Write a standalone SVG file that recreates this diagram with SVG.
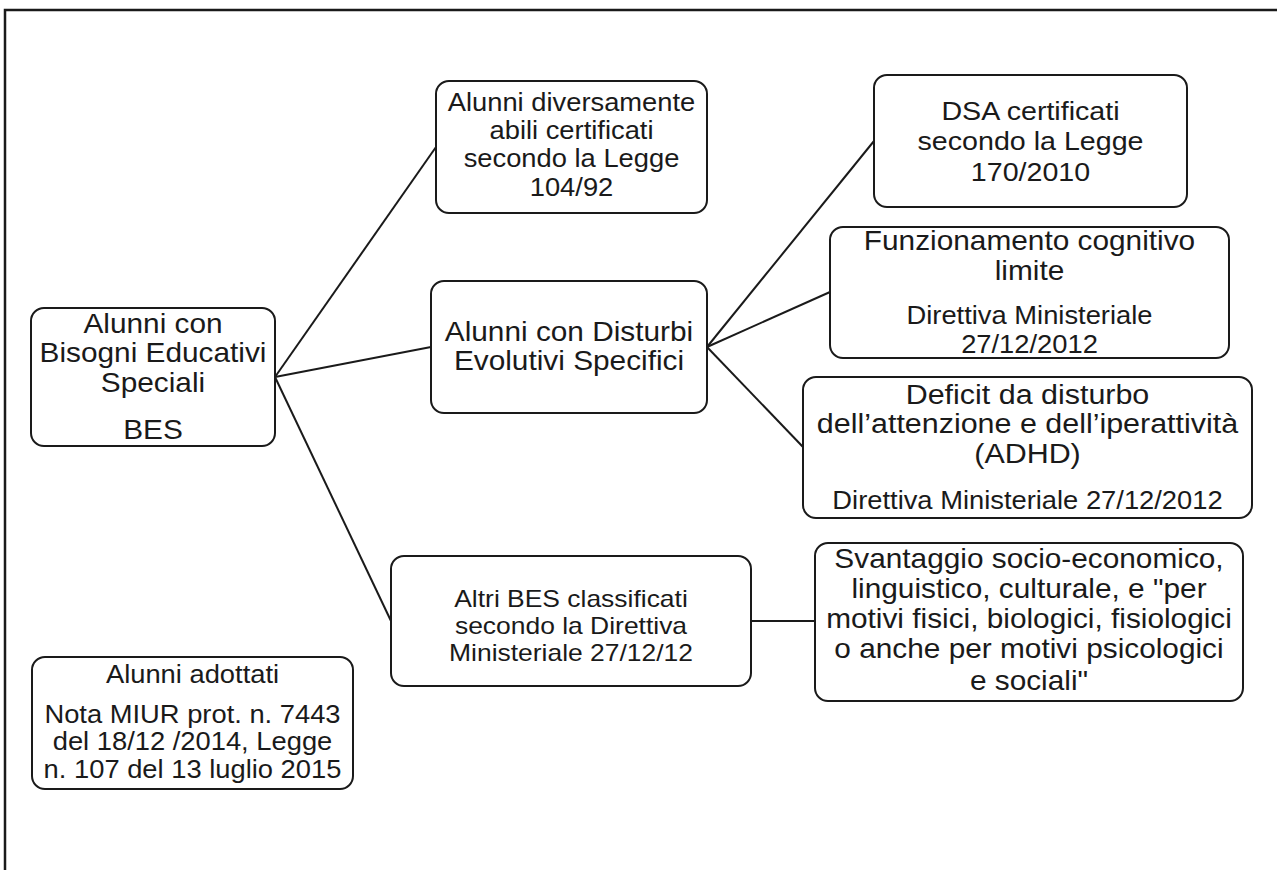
<svg xmlns="http://www.w3.org/2000/svg" width="1277" height="870" viewBox="0 0 1277 870">
<style>
.box{fill:#fff;stroke:#1a1a1a;stroke-width:2}
.frame{fill:none;stroke:#1a1a1a;stroke-width:2.5}
.conn line{stroke:#1a1a1a;stroke-width:2}
text{font-family:"Liberation Sans",Arial,sans-serif;fill:#1a1a1a;text-anchor:middle}
.b{font-size:27.6px}
.s{font-size:25.3px}
</style>
<rect width="1277" height="870" fill="#fff"/>
<path class="frame" d="M5,872 V10 H1280"/>
<g id="connectors" class="conn">
<line x1="275" y1="377" x2="436" y2="147"/>
<line x1="275" y1="377" x2="431" y2="347"/>
<line x1="275" y1="377" x2="391" y2="621"/>
<line x1="707" y1="347" x2="874" y2="141"/>
<line x1="707" y1="347" x2="830" y2="292"/>
<line x1="707" y1="347" x2="803" y2="447"/>
<line x1="751" y1="621" x2="815" y2="621"/>
</g>
<g id="node-bes">
<rect class="box" x="31" y="308" width="244" height="138" rx="13"/>
<text class="b" transform="translate(153 0) scale(1.08 1)"><tspan x="0" y="333">Alunni con</tspan><tspan x="0" y="362">Bisogni Educativi</tspan><tspan x="0" y="392">Speciali</tspan><tspan x="0" y="439">BES</tspan></text>
</g>
<g id="node-diversamente-abili">
<rect class="box" x="436" y="81" width="271" height="132" rx="13"/>
<text class="s" transform="translate(571.5 0) scale(1.08 1)"><tspan x="0" y="111.5">Alunni diversamente</tspan><tspan x="0" y="139.5">abili certificati</tspan><tspan x="0" y="167.5">secondo la Legge</tspan><tspan x="0" y="196.5">104/92</tspan></text>
</g>
<g id="node-disturbi">
<rect class="box" x="431" y="281" width="276" height="132" rx="13"/>
<text class="b" transform="translate(569 0) scale(1.08 1)"><tspan x="0" y="341.5">Alunni con Disturbi</tspan><tspan x="0" y="370">Evolutivi Specifici</tspan></text>
</g>
<g id="node-altri-bes">
<rect class="box" x="391" y="556" width="360" height="130" rx="13"/>
<text style="font-size:23px" transform="translate(571 0) scale(1.15 1)"><tspan x="0" y="607">Altri BES classificati</tspan><tspan x="0" y="634">secondo la Direttiva</tspan><tspan x="0" y="661">Ministeriale 27/12/12</tspan></text>
</g>
<g id="node-dsa">
<rect class="box" x="874" y="75" width="313" height="132" rx="13"/>
<text style="font-size:26.5px" transform="translate(1030.5 0) scale(1.08 1)"><tspan x="0" y="120.5">DSA certificati</tspan><tspan x="0" y="150">secondo la Legge</tspan><tspan x="0" y="181">170/2010</tspan></text>
</g>
<g id="node-funzionamento">
<rect class="box" x="830" y="227" width="399" height="131" rx="13"/>
<text class="b" transform="translate(1029.5 0) scale(1.08 1)"><tspan x="0" y="250.5">Funzionamento cognitivo</tspan><tspan x="0" y="280.5">limite</tspan></text>
<text class="s" transform="translate(1029.5 0) scale(1.08 1)"><tspan x="0" y="324">Direttiva Ministeriale</tspan><tspan x="0" y="353.5">27/12/2012</tspan></text>
</g>
<g id="node-adhd">
<rect class="box" x="803" y="377" width="449" height="141" rx="13"/>
<text style="font-size:28.2px" transform="translate(1027.5 0) scale(1.08 1)"><tspan x="0" y="404.5">Deficit da disturbo</tspan><tspan x="0" y="433.5">dell’attenzione e dell’iperattività</tspan><tspan x="0" y="463">(ADHD)</tspan></text>
<text class="s" transform="translate(1027.5 0) scale(1.08 1)"><tspan x="0" y="509.5">Direttiva Ministeriale 27/12/2012</tspan></text>
</g>
<g id="node-svantaggio">
<rect class="box" x="815" y="543" width="428" height="158" rx="13"/>
<text class="b" transform="translate(1029 0) scale(1.08 1)"><tspan x="0" y="568.5">Svantaggio socio-economico,</tspan><tspan x="0" y="598">linguistico, culturale, e "per</tspan><tspan x="0" y="628.5">motivi fisici, biologici, fisiologici</tspan><tspan x="0" y="658.5">o anche per motivi psicologici</tspan><tspan x="0" y="690">e sociali"</tspan></text>
</g>
<g id="node-adottati">
<rect class="box" x="32" y="657" width="321" height="132" rx="13"/>
<text class="s" transform="translate(192.5 0) scale(1.08 1)"><tspan x="0" y="683.5">Alunni adottati</tspan><tspan x="0" y="723.5">Nota MIUR prot. n. 7443</tspan><tspan x="0" y="750.5">del 18/12 /2014, Legge</tspan><tspan x="0" y="778.5">n. 107 del 13 luglio 2015</tspan></text>
</g>
</svg>
